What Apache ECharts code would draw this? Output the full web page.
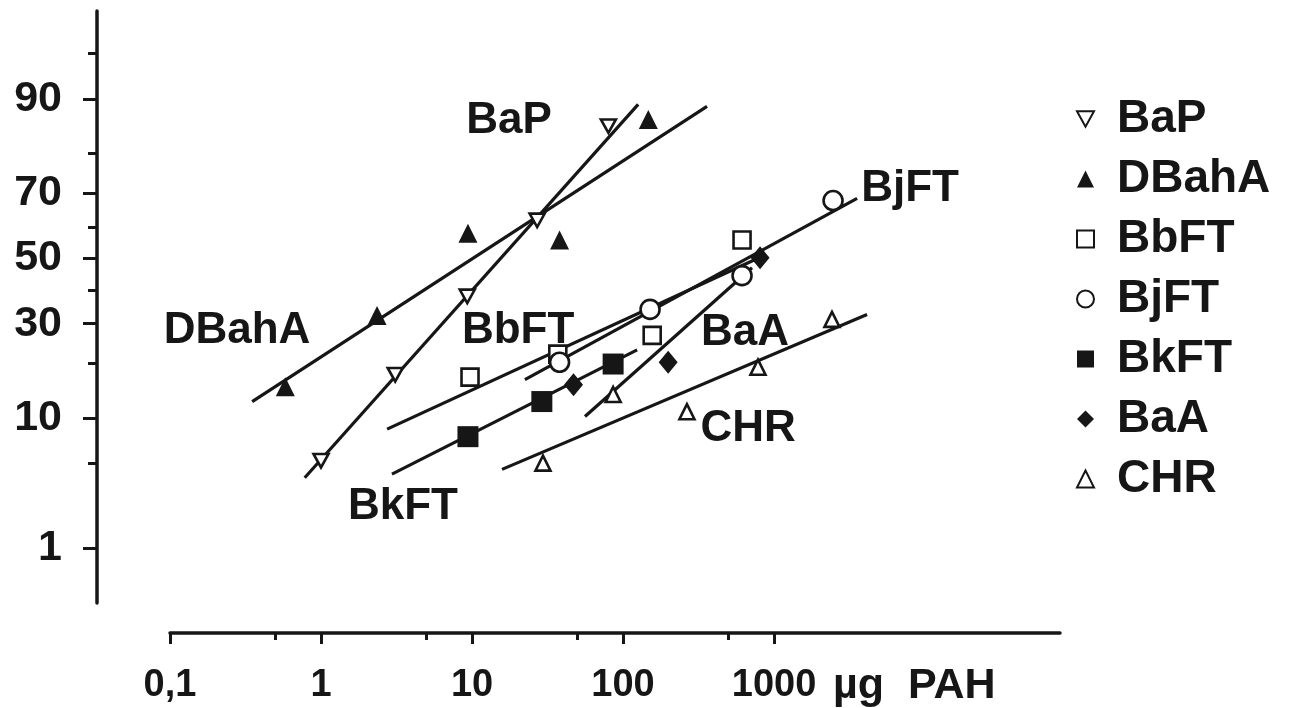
<!DOCTYPE html>
<html><head><meta charset="utf-8">
<script src="https://cdn.jsdelivr.net/npm/echarts@6/dist/echarts.min.js"></script>
<style>html,body{margin:0;padding:0;background:#fff;}#c{width:1292px;height:708px;}</style>
</head><body><div id="c"></div>
<script>
// ---- data: x = µg PAH, y = cumulative percent (probit scale) ----
const seriesNames = ['BaP','DBahA','BbFT','BjFT','BkFT','BaA','CHR'];
const BaP_x   = [1, 3.1, 9.3, 27, 80];
const BaP_y   = [5.2, 17.5, 38, 62, 85.6];
const DBahA_x = [0.58, 2.35, 9.4, 38, 147];
const DBahA_y = [15.1, 32.3, 58, 55.9, 86.8];
const BbFT_x  = [9.7, 37, 156, 614];
const BbFT_y  = [17, 22.1, 26.8, 55.9];
const BjFT_x  = [38, 151, 614, 2460];
const BjFT_y  = [20.2, 34.1, 44.5, 67.9];
const BkFT_x  = [9.4, 29, 86];
const BkFT_y  = [7.6, 12.5, 19.8];
const BaA_x   = [47, 199, 808];
const BaA_y   = [15.5, 20.2, 50.2];
const CHR_x   = [29.5, 86, 265, 783, 2420];
const CHR_y   = [5.0, 13.7, 10.9, 19.1, 31.2];

// fitted regression lines (end points)
const fitBaP_x   = [0.78, 126],  fitBaP_y   = [3.9, 89.2];
const fitDBahA_x = [0.35, 360],  fitDBahA_y = [12.5, 88.9];
const fitBbFT_x  = [2.74, 871],  fitBbFT_y  = [8.5, 51.1];
const fitBjFT_x  = [22.4, 3550], fitBjFT_y  = [16.5, 68.5];
const fitBkFT_x  = [2.95, 124],  fitBkFT_y  = [4.15, 23.1];
const fitBaA_x   = [56, 715],    fitBaA_y   = [10.2, 47];
const fitCHR_x   = [15.8, 4130], fitCHR_y   = [4.5, 32.6];

// in-plot annotations (data coordinates)
const annoText = ['BaP','DBahA','BbFT','BjFT','BkFT','BaA','CHR'];
const annoX    = [17.6, 0.278, 20.2, 7960, 3.49, 643, 673];
const annoY    = [86.5, 27.9, 27.9, 71.3, 2.3, 27.6, 8.6];

// axis ticks
const xLabelValues = [0.1, 1, 10, 100, 1000];
const xLabelTexts  = ['0,1', '1', '10', '100', '1000'];
const xMinorTicks  = [0.5, 5, 50, 500];
const xUnit = 'µg  PAH';
const xMax = 78300;
const yLabelValues = [1, 10, 30, 50, 70, 90];
const yMinorTicks  = [5, 20, 40, 60, 80, 95];
const yMinPct = 0.281, yMaxPct = 97.66;

// ---- probit transform (inverse standard normal) ----
function probit(p){
  const a=[-3.969683028665376e+01,2.209460984245205e+02,-2.759285104469687e+02,1.383577518672690e+02,-3.066479806614716e+01,2.506628277459239e+00];
  const b=[-5.447609879822406e+01,1.615858368580409e+02,-1.556989798598866e+02,6.680131188771972e+01,-1.328068155288572e+01];
  const c=[-7.784894002430293e-03,-3.223964580411365e-01,-2.400758277161838e+00,-2.549671010224956e+00,4.374664141464968e+00,2.938163982698783e+00];
  const d=[7.784695709041462e-03,3.224671290700398e-01,2.445134137142996e+00,3.754408661907416e+00];
  const pl=0.02425, ph=1-pl; let q,r;
  if(p<pl){q=Math.sqrt(-2*Math.log(p));return (((((c[0]*q+c[1])*q+c[2])*q+c[3])*q+c[4])*q+c[5])/((((d[0]*q+d[1])*q+d[2])*q+d[3])*q+1);}
  if(p<=ph){q=p-0.5;r=q*q;return (((((a[0]*r+a[1])*r+a[2])*r+a[3])*r+a[4])*r+a[5])*q/(((((b[0]*r+b[1])*r+b[2])*r+b[3])*r+b[4])*r+1);}
  q=Math.sqrt(-2*Math.log(1-p));return -(((((c[0]*q+c[1])*q+c[2])*q+c[3])*q+c[4])*q+c[5])/((((d[0]*q+d[1])*q+d[2])*q+d[3])*q+1);
}
const pz = pct => probit(pct/100);
const pairs = (xs, ys) => xs.map((x,i)=>[x, pz(ys[i])]);

const ink = '#161616';
const font = '"Liberation Sans", Arial, Helvetica, sans-serif';
const open = {color:'#ffffff', borderColor:ink, borderWidth:2.6, opacity:1};
const filled = {color:ink, borderColor:ink, borderWidth:0, opacity:1};

const pointDefs = [
  {name:'BaP',   xs:BaP_x,   ys:BaP_y,   symbol:'path://M0,0L10,0L5,9Z', size:15, style:open},
  {name:'DBahA', xs:DBahA_x, ys:DBahA_y, symbol:'triangle', size:19, style:filled},
  {name:'BbFT',  xs:BbFT_x,  ys:BbFT_y,  symbol:'rect', size:17, style:open},
  {name:'BjFT',  xs:BjFT_x,  ys:BjFT_y,  symbol:'circle', size:19, style:open},
  {name:'BkFT',  xs:BkFT_x,  ys:BkFT_y,  symbol:'rect', size:21, style:filled},
  {name:'BaA',   xs:BaA_x,   ys:BaA_y,   symbol:'diamond', size:[19,23], style:filled},
  {name:'CHR',   xs:CHR_x,   ys:CHR_y,   symbol:'triangle', size:15, style:open}
];
const fitDefs = [
  [fitBaP_x, fitBaP_y],[fitDBahA_x, fitDBahA_y],[fitBbFT_x, fitBbFT_y],[fitBjFT_x, fitBjFT_y],
  [fitBkFT_x, fitBkFT_y],[fitBaA_x, fitBaA_y],[fitCHR_x, fitCHR_y]
];

const series = [];
fitDefs.forEach((f,i)=>{
  series.push({type:'line', name:'fit-'+seriesNames[i], data:pairs(f[0],f[1]), symbol:'none',
    lineStyle:{color:ink, width:3.2, opacity:1}, silent:true, z:2, animation:false});
});
pointDefs.forEach(d=>{
  series.push({type:'scatter', name:d.name, data:pairs(d.xs,d.ys), symbol:d.symbol, symbolSize:d.size,
    symbolKeepAspect:true, itemStyle:d.style, z:5, silent:true});
});
series.push({type:'scatter', name:'annotations', silent:true, symbolSize:0, z:6,
  itemStyle:{opacity:1},
  data: annoText.map((t,i)=>({value:[annoX[i], pz(annoY[i])], label:{formatter:t}})),
  label:{show:true, position:'inside', fontSize:44, fontWeight:'bold', fontFamily:font, color:ink}
});

const yLabelZ = yLabelValues.map(pz);
function yFmt(v){
  let best=0, bd=1e9;
  yLabelZ.forEach((z,i)=>{const dd=Math.abs(z-v); if(dd<bd){bd=dd;best=i;}});
  return String(yLabelValues[best]);
}
function xFmt(v){
  let best=0, bd=1e9;
  xLabelValues.forEach((x,i)=>{const dd=Math.abs(Math.log10(x)-Math.log10(v)); if(dd<bd){bd=dd;best=i;}});
  return xLabelTexts[best];
}

const chart = echarts.init(document.getElementById('c'), null, {renderer:'canvas'});
chart.setOption({
  animation:false,
  backgroundColor:'#ffffff',
  grid:{left:170, right:232, top:11, bottom:100, containLabel:false},
  legend:{
    data:seriesNames, orient:'vertical', left:1071, top:91,
    itemWidth:17, itemHeight:17, itemGap:14, selectedMode:false,
    textStyle:{fontSize:46, fontWeight:'bold', fontFamily:font, color:ink, lineHeight:46, padding:[0,0,0,18]}
  },
  xAxis:[{
    type:'log', logBase:10, min:0.1, max:xMax, position:'bottom', offset:30,
    axisLine:{show:true, onZero:false, lineStyle:{color:ink, width:3.5}},
    axisTick:{show:true, inside:false, length:11, customValues:xLabelValues, lineStyle:{color:ink, width:3}},
    axisLabel:{show:true, margin:34, customValues:xLabelValues, formatter:xFmt,
      fontSize:38, fontWeight:'bold', fontFamily:font, color:ink},
    splitLine:{show:false}, minorTick:{show:false},
    name:xUnit, nameLocation:'end', nameGap:-227,
    nameTextStyle:{fontSize:43, fontWeight:'bold', fontFamily:font, color:ink, align:'left', verticalAlign:'top', padding:[32,0,0,0]}
  },{
    type:'log', logBase:10, min:0.1, max:xMax, position:'bottom', offset:30,
    axisLine:{show:false, onZero:false},
    axisTick:{show:true, inside:false, length:7, customValues:xMinorTicks, lineStyle:{color:ink, width:3}},
    axisLabel:{show:false}, splitLine:{show:false}
  }],
  yAxis:[{
    type:'value', min:pz(yMinPct), max:pz(yMaxPct), position:'left', offset:73,
    axisLine:{show:true, onZero:false, lineStyle:{color:ink, width:3.5}},
    axisTick:{show:true, inside:false, length:14, customValues:yLabelZ, lineStyle:{color:ink, width:3}},
    axisLabel:{show:true, margin:35, customValues:yLabelZ, formatter:yFmt,
      fontSize:43, fontWeight:'bold', fontFamily:font, color:ink},
    splitLine:{show:false}
  },{
    type:'value', min:pz(yMinPct), max:pz(yMaxPct), position:'left', offset:73,
    axisLine:{show:false, onZero:false},
    axisTick:{show:true, inside:false, length:9, customValues:yMinorTicks.map(pz), lineStyle:{color:ink, width:3}},
    axisLabel:{show:false}, splitLine:{show:false}
  }],
  series:series
});
</script></body></html>
